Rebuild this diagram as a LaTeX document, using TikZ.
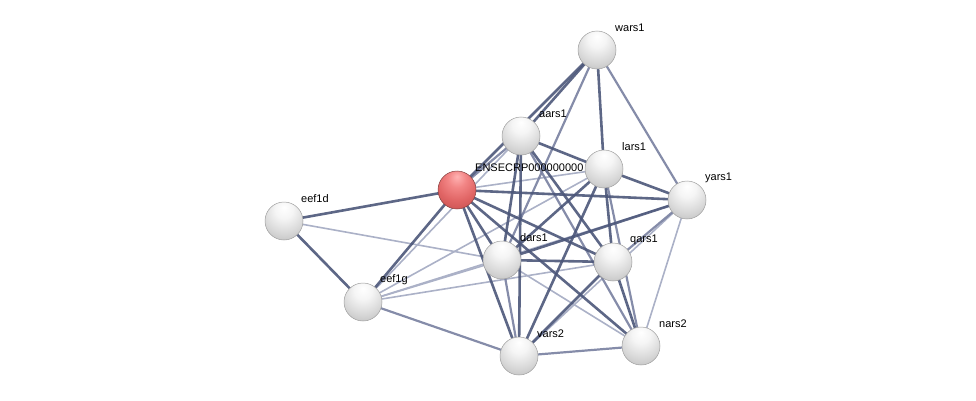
\documentclass[tikz,border=0pt]{standalone}
\usepackage{fontspec}
\setmainfont{Liberation Sans}

\pgfdeclarelayer{edges}
\pgfdeclarelayer{labels}
\pgfsetlayers{edges,labels,main}

\definecolor{edgedark}{HTML}{4B5679}
\definecolor{edgemid}{HTML}{7880A0}
\definecolor{edgelight}{HTML}{ABB1C7}

% sphere look of the proteins
\pgfdeclareradialshading{greyball}{\pgfpoint{0bp}{18bp}}{%
  color(0bp)=(white); color(12bp)=(white!96!black); color(26bp)=(white!86!black);
  color(40bp)=(white!75!black); color(54bp)=(white!62!black); color(62bp)=(white!52!black);
  color(80bp)=(white!45!black)}
\pgfdeclareradialshading{redball}{\pgfpoint{0bp}{18bp}}{%
  color(0bp)=(red!30!white); color(12bp)=(red!45!white!95!black); color(26bp)=(red!55!white!88!black);
  color(40bp)=(red!60!white!78!black); color(54bp)=(red!65!white!65!black); color(62bp)=(red!70!white!55!black);
  color(80bp)=(red!55!black)}

\tikzset{
  protein/.style={circle, minimum size=38pt, inner sep=0pt, shading=greyball, draw=gray!75, line width=.5pt},
  query/.style={protein, shading=redball, draw=red!35!black!75},
  protname/.style={anchor=west, inner sep=1pt, font=\fontsize{11}{13}\selectfont},
  linkstrong/.style={edgedark, line width=2.6pt, opacity=.9},
  linkmid/.style={edgemid, line width=2.2pt, opacity=.9},
  linkweak/.style={edgelight, line width=1.6pt}
}

\begin{document}
\begin{tikzpicture}[x=1pt, y=-1pt]
    \useasboundingbox (0,0) rectangle (976,401);

    % Proteins
    \node[protein] (wars1) at (597,50) {};
    \node[protein] (aars1) at (521,136) {};
    \node[protein] (lars1) at (604,169) {};
    \node[query]   (ensecrp) at (457,190) {};
    \node[protein] (yars1) at (687,200) {};
    \node[protein] (eef1d) at (284,221) {};
    \node[protein] (dars1) at (502,260) {};
    \node[protein] (qars1) at (613,262) {};
    \node[protein] (eef1g) at (363,302) {};
    \node[protein] (nars2) at (641,346) {};
    \node[protein] (vars2) at (519,356) {};

    % Names
    \begin{pgfonlayer}{labels}
    \node[protname] (wars1-name) at ([shift={(17,-22)}]wars1.center) {wars1};
    \node[protname] (aars1-name) at ([shift={(17,-22)}]aars1.center) {aars1};
    \node[protname] (lars1-name) at ([shift={(17,-22)}]lars1.center) {lars1};
    \node[protname] (ensecrp-name) at ([shift={(17,-22)}]ensecrp.center) {ENSECRP000000000};
    \node[protname] (yars1-name) at ([shift={(17,-22)}]yars1.center) {yars1};
    \node[protname] (eef1d-name) at ([shift={(16,-22)}]eef1d.center) {eef1d};
    \node[protname] (dars1-name) at ([shift={(17,-22)}]dars1.center) {dars1};
    \node[protname] (qars1-name) at ([shift={(16,-22)}]qars1.center) {qars1};
    \node[protname] (eef1g-name) at ([shift={(16,-22)}]eef1g.center) {eef1g};
    \node[protname] (nars2-name) at ([shift={(17,-22)}]nars2.center) {nars2};
    \node[protname] (vars2-name) at ([shift={(17,-22)}]vars2.center) {vars2};
    \end{pgfonlayer}

    % Interactions
    \begin{pgfonlayer}{edges}
    % weak ones
    \draw[linkweak] (eef1d.center) -- (dars1.center);
    \draw[linkweak] (eef1g.center) -- (aars1.center);
    \draw[linkweak] (eef1g.center) -- (dars1.center);
    \draw[linkweak] (eef1g.center) -- (lars1.center);
    \draw[linkweak] (eef1g.center) -- (yars1.center);
    \draw[linkweak] (eef1g.center) -- (qars1.center);
    \draw[linkweak] (yars1.center) -- (nars2.center);
    \draw[linkweak] (ensecrp.center) -- (lars1.center);
    \draw[linkweak] (dars1.center) -- (nars2.center);
    \draw[linkweak] (vars2.center) -- (yars1.center);
    % medium ones
    \draw[linkmid] (eef1g.center) -- (vars2.center);
    \draw[linkmid] (vars2.center) -- (nars2.center);
    \draw[linkmid] (aars1.center) -- (nars2.center);
    \draw[linkmid] (ensecrp.center) -- (aars1.center);
    \draw[linkmid] (wars1.center) -- (yars1.center);
    \draw[linkmid] (wars1.center) -- (dars1.center);
    \draw[linkmid] (lars1.center) -- (nars2.center);
    \draw[linkmid] (qars1.center) -- (yars1.center);
    \draw[linkmid] (dars1.center) -- (vars2.center);
    % strong ones
    \draw[linkstrong] (ensecrp.center) -- (eef1d.center);
    \draw[linkstrong] (eef1d.center) -- (eef1g.center);
    \draw[linkstrong] (ensecrp.center) -- (eef1g.center);
    \draw[linkstrong] (ensecrp.center) -- (wars1.center);
    \draw[linkstrong] (wars1.center) -- (aars1.center);
    \draw[linkstrong] (wars1.center) -- (lars1.center);
    \draw[linkstrong] (ensecrp.center) -- (yars1.center);
    \draw[linkstrong] (ensecrp.center) -- (dars1.center);
    \draw[linkstrong] (ensecrp.center) -- (qars1.center);
    \draw[linkstrong] (ensecrp.center) -- (nars2.center);
    \draw[linkstrong] (ensecrp.center) -- (vars2.center);
    \draw[linkstrong] (aars1.center) -- (lars1.center);
    \draw[linkstrong] (aars1.center) -- (dars1.center);
    \draw[linkstrong] (aars1.center) -- (qars1.center);
    \draw[linkstrong] (aars1.center) -- (vars2.center);
    \draw[linkstrong] (lars1.center) -- (yars1.center);
    \draw[linkstrong] (lars1.center) -- (dars1.center);
    \draw[linkstrong] (lars1.center) -- (qars1.center);
    \draw[linkstrong] (lars1.center) -- (vars2.center);
    \draw[linkstrong] (dars1.center) -- (qars1.center);
    \draw[linkstrong] (dars1.center) -- (yars1.center);
    \draw[linkstrong] (qars1.center) -- (vars2.center);
    \draw[linkstrong] (qars1.center) -- (nars2.center);
    \end{pgfonlayer}
\end{tikzpicture}
\end{document}
